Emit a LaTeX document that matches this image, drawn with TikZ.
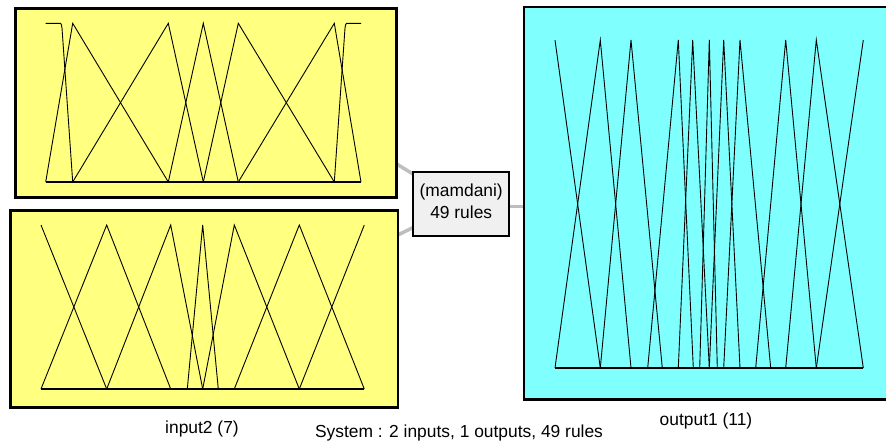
\documentclass[tikz,border=0pt]{standalone}
\usepackage{fontspec}
\setmainfont{Liberation Sans}
\usepackage{tikz}
\usetikzlibrary{positioning,backgrounds}

\definecolor{inyellow}{HTML}{FFFF80}
\definecolor{outcyan}{HTML}{80FFFF}
\definecolor{rulegray}{HTML}{F0F0F0}
\definecolor{linkgray}{HTML}{BEBEBE}

\begin{document}
\begin{tikzpicture}[x=1pt, y=-1pt,
    varbox/.style={draw=black, line width=2.5pt, fill=inyellow, inner sep=0pt},
    outbox/.style={varbox, fill=outcyan},
    rulebox/.style={draw=black, line width=2pt, fill=rulegray, inner sep=0pt,
      minimum width=95.7pt, minimum height=64.5pt},
    link/.style={draw=linkgray, line width=3.5pt},
    mf/.style={line width=0.9pt},
    mfaxis/.style={line width=1.5pt},
    caption/.style={font=\fontsize{17.4}{20}\selectfont, inner sep=0pt, anchor=base}
  ]
  \useasboundingbox (0,0) rectangle (886,442);
  \clip (0,0) rectangle (886,442);

  % variable blocks and the rule block
  \node[varbox, minimum width=380.8pt, minimum height=189.2pt] (in1) at (205.9,102.9) {};
  \node[varbox, minimum width=387.7pt, minimum height=197.4pt] (in2) at (204.2,309) {};
  \node[outbox, minimum width=380pt, minimum height=392.3pt] (out) at (714,203.2) {};
  \node[rulebox] (rules) at (461.2,204) {};
  \node[caption] (rules type) at (461.2,196) {(mamdani)};
  \node[caption] (rules count) at (461.2,218.3) {49 rules};

  % grey links run under the blocks
  \coordinate (in1 tap) at (380,153.6);
  \coordinate (in2 tap) at (380,243.7);
  \begin{scope}[on background layer]
    \draw[link] (in1 tap) -- (rules.center);
    \draw[link] (in2 tap) -- (rules.center);
    \draw[link] ([yshift=-2.5pt]rules.center) -- ([yshift=-2.5pt]rules.center -| out.center);
  \end{scope}

  % input1: 7 membership functions
  \draw[mfaxis] (45.7,182) -- (361,182);
  \draw[mf] (45.7,23.3) -- (60.3,23.3) .. controls (61.3,23.3) and (61.6,25) .. (62,28) -- (72.7,182);
  \foreach \l/\p/\r in {45.7/72.7/168.3, 72.7/168.3/203.3, 168.3/203.3/238.3,
                        203.3/238.3/334.3, 238.3/334.3/361}
    \draw[mf] (\l,182) -- (\p,23.3) -- (\r,182);
  \draw[mf] (334.3,182) -- (345,28) .. controls (345.4,25) and (345.7,23.3) .. (346.7,23.3) -- (361,23.3);

  % input2: 7 membership functions
  \draw[mfaxis] (41,389) -- (364.3,389);
  \draw[mf] (41,225) -- (106.7,389);
  \foreach \l/\p/\r in {41/106.7/170.7, 106.7/170.7/202.7, 187.3/202.7/218.3,
                        202.7/234.3/299.3, 234.3/299.3/364.3}
    \draw[mf] (\l,389) -- (\p,225) -- (\r,389);
  \draw[mf] (299.3,389) -- (364.3,225);

  % output1: 11 membership functions
  \draw[mfaxis] (555,368) -- (863.3,368);
  \draw[mf] (555,40) -- (600.3,368);
  \foreach \l/\p/\r in {555/600.3/631, 600.3/631/662.3, 647.7/678.3/693.3,
                        678.3/692.7/709.3, 699.7/709.3/717.3, 709.3/723.7/740,
                        723.7/740/770.7, 755.7/785.7/816.3, 785.7/816.3/863.3}
    \draw[mf] (\l,368) -- (\p,40) -- (\r,368);
  \draw[mf] (816.3,368) -- (863.3,40);

  % captions
  \node[caption] (in2 name) at (202,433.3) {input2 (7)};
  \node[caption] (out name) at (706,425) {output1 (11)};
  \node[caption] (summary) at (459,437) {System : 2 inputs, 1 outputs, 49 rules};
\end{tikzpicture}
\end{document}
